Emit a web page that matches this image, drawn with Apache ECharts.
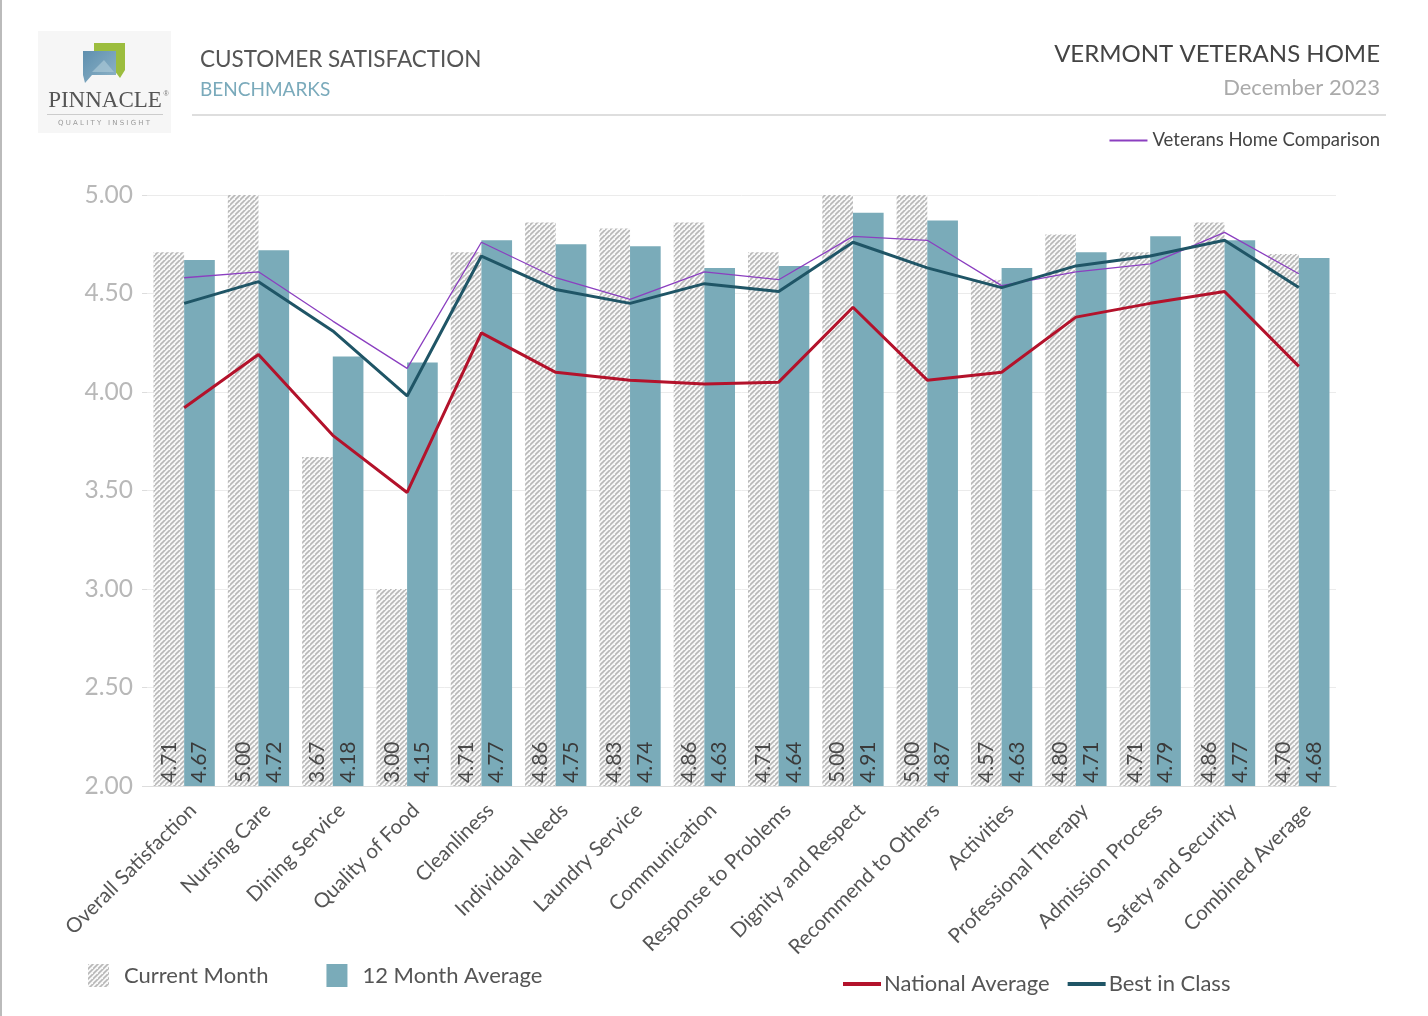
<!DOCTYPE html>
<html>
<head>
<meta charset="utf-8">
<script src="https://cdn.jsdelivr.net/npm/echarts@6/dist/echarts.min.js"></script>
<style>
  html, body { margin: 0; padding: 0; background: #ffffff; }
  #chart { width: 1428px; height: 1016px; }
</style>
</head>
<body>
<div id="chart"></div>
<script>
// ---------- DATA ----------
const categories = [
  'Overall Satisfaction', 'Nursing Care', 'Dining Service', 'Quality of Food',
  'Cleanliness', 'Individual Needs', 'Laundry Service', 'Communication',
  'Response to Problems', 'Dignity and Respect', 'Recommend to Others', 'Activities',
  'Professional Therapy', 'Admission Process', 'Safety and Security', 'Combined Average'
];
const currentMonth = [4.71, 5.00, 3.67, 3.00, 4.71, 4.86, 4.83, 4.86, 4.71, 5.00, 5.00, 4.57, 4.80, 4.71, 4.86, 4.70];
const twelveMonthAvg = [4.67, 4.72, 4.18, 4.15, 4.77, 4.75, 4.74, 4.63, 4.64, 4.91, 4.87, 4.63, 4.71, 4.79, 4.77, 4.68];
const nationalAvg = [3.92, 4.19, 3.78, 3.49, 4.30, 4.10, 4.06, 4.04, 4.05, 4.43, 4.06, 4.10, 4.38, 4.45, 4.51, 4.13];
const bestInClass = [4.45, 4.56, 4.31, 3.98, 4.69, 4.52, 4.45, 4.55, 4.51, 4.76, 4.63, 4.53, 4.64, 4.69, 4.77, 4.53];
const veteransHome = [4.58, 4.61, 4.36, 4.12, 4.76, 4.58, 4.47, 4.61, 4.57, 4.79, 4.77, 4.54, 4.61, 4.65, 4.81, 4.60];
const yTicks = { min: 2, max: 5, interval: 0.5 };

// ---------- hatch pattern ----------
function makeHatch() {
  const s = 5;
  const c = document.createElement('canvas');
  c.width = s; c.height = s;
  const ctx = c.getContext('2d');
  ctx.fillStyle = '#f8f8f8';
  ctx.fillRect(0, 0, s, s);
  ctx.strokeStyle = '#b8b8b8';
  ctx.lineWidth = 1.6;
  ctx.beginPath();
  ctx.moveTo(-1, s + 1); ctx.lineTo(s + 1, -1);
  ctx.moveTo(-1 - s, s + 1); ctx.lineTo(1, -1);
  ctx.moveTo(s - 1, 2 * s + 1); ctx.lineTo(2 * s + 1, s - 1);
  ctx.stroke();
  return c;
}
const hatch = { image: makeHatch(), repeat: 'repeat' };

const FONT = 'Lato, "Open Sans", sans-serif';
const chart = echarts.init(document.getElementById('chart'), null, { renderer: 'canvas' });

const option = {
  backgroundColor: '#ffffff',
  animation: false,
  textStyle: { fontFamily: FONT },
  grid: { left: 147, right: 92, top: 195, bottom: 230, containLabel: false },
  legend: [
    {
      data: ['Current Month', '12 Month Average'],
      left: 83, top: 959, icon: 'rect', itemWidth: 21, itemHeight: 23, itemGap: 58,
      textStyle: { fontSize: 22, color: '#555', fontFamily: FONT, padding: [0, 0, 0, 10] }
    },
    {
      data: ['National Average', 'Best in Class'],
      left: 838, top: 968, icon: 'rect', itemWidth: 38, itemHeight: 4, itemGap: 18,
      textStyle: { fontSize: 22, color: '#555', fontFamily: FONT, padding: [0, 0, 0, -2] }
    },
    {
      data: ['Veterans Home Comparison'],
      right: 43, top: 126, icon: 'rect', itemWidth: 38, itemHeight: 2,
      textStyle: { fontSize: 18.5, color: '#444', fontFamily: FONT }
    }
  ],
  xAxis: {
    type: 'category',
    data: categories,
    axisLine: { show: true, lineStyle: { color: '#dddddd', width: 1 } },
    axisTick: { show: false },
    axisLabel: { interval: 0, rotate: 45, fontSize: 20.5, color: '#555', margin: 15, fontFamily: FONT,
      verticalAlign: 'top', padding: [0, -2, 0, 0] }
  },
  yAxis: {
    type: 'value',
    min: yTicks.min, max: yTicks.max, interval: yTicks.interval,
    axisLine: { show: false },
    axisTick: { show: true, length: 5, lineStyle: { color: '#dddddd' } },
    axisLabel: { fontSize: 24.5, color: '#b8b8b8', margin: 14, fontFamily: FONT,
      formatter: v => v.toFixed(2) },
    splitLine: { lineStyle: { color: '#ebebeb', width: 1 } }
  },
  series: [
    {
      name: 'Current Month', type: 'bar', data: currentMonth,
      barGap: '0%', barCategoryGap: '17.5%',
      itemStyle: { color: hatch },
      label: { show: true, position: 'insideBottom', rotate: 90, align: 'left', verticalAlign: 'middle',
        distance: 3, fontSize: 21, color: '#4a4a4a', fontFamily: FONT, formatter: p => p.value.toFixed(2) },
      z: 2
    },
    {
      name: '12 Month Average', type: 'bar', data: twelveMonthAvg,
      barGap: '0%', barCategoryGap: '17.5%',
      itemStyle: { color: '#7aabb9' },
      label: { show: true, position: 'insideBottom', rotate: 90, align: 'left', verticalAlign: 'middle',
        distance: 3, fontSize: 21, color: '#3a3a3a', fontFamily: FONT, formatter: p => p.value.toFixed(2) },
      z: 2
    },
    {
      name: 'Veterans Home Comparison', type: 'line', data: veteransHome,
      showSymbol: false, symbol: 'none',
      lineStyle: { color: '#8b3fc0', width: 1.3 }, itemStyle: { color: '#8b3fc0' }, z: 4
    },
    {
      name: 'Best in Class', type: 'line', data: bestInClass,
      showSymbol: false, symbol: 'none',
      lineStyle: { color: '#1f5566', width: 3 }, itemStyle: { color: '#1f5566' }, z: 5
    },
    {
      name: 'National Average', type: 'line', data: nationalAvg,
      showSymbol: false, symbol: 'none',
      lineStyle: { color: '#b3122b', width: 3 }, itemStyle: { color: '#b3122b' }, z: 5
    }
  ],
  graphic: [
    { type: 'rect', shape: { x: 0, y: 0, width: 2, height: 1016 }, style: { fill: '#bbbbbb' } },
    { type: 'rect', shape: { x: 38, y: 31, width: 133, height: 102 }, style: { fill: '#f6f6f6' } },
    { type: 'polygon', shape: { points: [[94, 43], [125, 43], [125, 70], [120, 78], [114, 70], [94, 70]] },
      style: { fill: '#9cbd3e' } },
    { type: 'polygon', shape: { points: [[83, 51], [116, 51], [116, 75], [92, 75], [85, 83], [83, 75]] },
      style: { fill: new echarts.graphic.LinearGradient(0, 0, 1, 1, [{ offset: 0, color: '#5e8fae' }, { offset: 1, color: '#8fb4c8' }]) } },
    { type: 'polygon', shape: { points: [[92, 72], [104, 60], [114, 72]] }, style: { fill: '#a9c7d6', opacity: 0.7 } },
    { type: 'text', style: { text: 'PINNACLE', x: 105, y: 101, align: 'center', verticalAlign: 'middle',
      font: '23px "Liberation Serif", "DejaVu Serif", serif', fill: '#555' } },
    { type: 'text', style: { text: '®', x: 166, y: 94, align: 'center', verticalAlign: 'middle',
      font: '7px sans-serif', fill: '#777' } },
    { type: 'rect', shape: { x: 47, y: 114, width: 116, height: 1 }, style: { fill: '#cccccc' } },
    { type: 'text', style: { text: 'Q U A L I T Y   I N S I G H T', x: 104, y: 123, align: 'center', verticalAlign: 'middle',
      font: '7px "DejaVu Sans", sans-serif', fill: '#9a9a9a' } },
    { type: 'text', style: { text: 'CUSTOMER SATISFACTION', x: 200, y: 60, verticalAlign: 'middle',
      font: '22.5px Lato, sans-serif', fill: '#555' } },
    { type: 'text', style: { text: 'BENCHMARKS', x: 200, y: 90, verticalAlign: 'middle',
      font: '19px Lato, sans-serif', fill: '#7aaabb' } },
    { type: 'rect', shape: { x: 192, y: 114, width: 1194, height: 2 }, style: { fill: '#dedede' } },
    { type: 'text', style: { text: 'VERMONT VETERANS HOME', x: 1380, y: 54, align: 'right', verticalAlign: 'middle',
      font: '24px Lato, sans-serif', fill: '#444' } },
    { type: 'text', style: { text: 'December 2023', x: 1380, y: 88, align: 'right', verticalAlign: 'middle',
      font: '22px Lato, sans-serif', fill: '#aaaaaa' } }
  ]
};
chart.setOption(option);
</script>
</body>
</html>
